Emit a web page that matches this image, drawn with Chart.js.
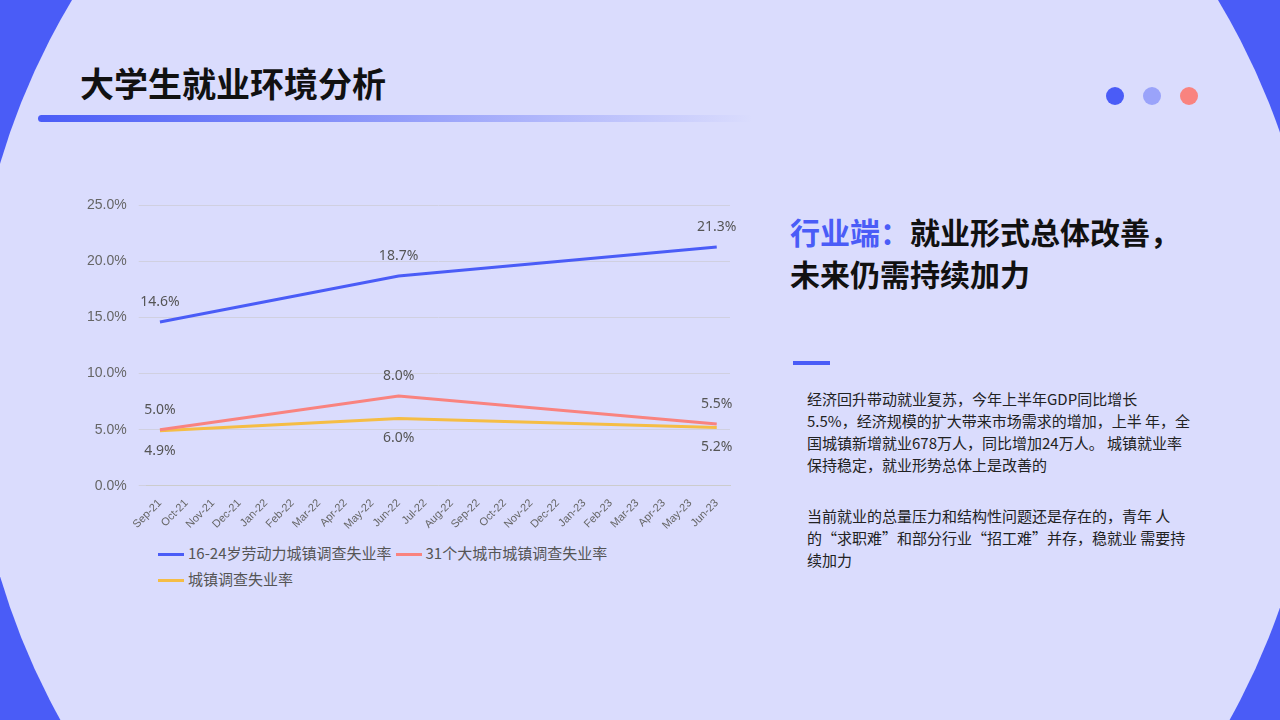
<!DOCTYPE html>
<html><head><meta charset="utf-8">
<script src="https://cdn.jsdelivr.net/npm/chart.js@4/dist/chart.umd.min.js"></script>
<style>
body{margin:0;width:1280px;height:720px;overflow:hidden;background:#4a5cf7;font-family:"Noto Sans CJK SC","Noto Sans",sans-serif;position:relative}
#bg{position:absolute;left:-30px;top:-330px;width:1350px;height:1400px;border-radius:50%;background:#dadcfd}
h1{position:absolute;left:80px;top:58px;margin:0;font-size:34px;font-weight:700;color:#111}
#bar{position:absolute;left:38px;top:115px;width:715px;height:7px;border-radius:4px;background:linear-gradient(90deg,#4a5cf7,#9aa3fa 55%,#dadcfd)}
.dot{position:absolute;top:87px;width:18px;height:18px;border-radius:50%}
#wrap{position:absolute;left:75px;top:185px;width:665px;height:350px}
#legend{position:absolute;left:158px;top:540px;width:500px;font-size:15px;color:#555;line-height:26px}
#legend span{display:inline-block;margin-right:4px;white-space:nowrap}
#legend i{display:inline-block;width:26px;height:3px;vertical-align:middle;margin-right:4px}
#h2{position:absolute;left:790px;top:210px;font-size:30px;font-weight:700;color:#111;line-height:42px}
#h2 span{color:#4a5cf7}
#ln{position:absolute;left:793px;top:361px;width:37px;height:4px;background:#4a5cf7}
.p{position:absolute;left:807px;width:388px;font-size:15px;line-height:22px;color:#222}
</style></head><body>
<div id="bg"></div>
<h1>大学生就业环境分析</h1>
<div id="bar"></div>
<div class="dot" style="left:1106px;background:#4a5cf7"></div>
<div class="dot" style="left:1143px;background:#9aa3fa"></div>
<div class="dot" style="left:1180px;background:#f9837f"></div>
<div id="wrap"><canvas id="c"></canvas></div>
<div id="legend"></div>
<div id="h2"><span>行业端：</span>就业形式总体改善，<br>未来仍需持续加力</div>
<div id="ln"></div>
<div class="p" style="top:388px">经济回升带动就业复苏，今年上半年GDP同比增长<br>5.5%，经济规模的扩大带来市场需求的增加，上半 年，全国城镇新增就业678万人，同比增加24万人。 城镇就业率保持稳定，就业形势总体上是改善的</div>
<div class="p" style="top:505px">当前就业的总量压力和结构性问题还是存在的，青年 人的“求职难”和部分行业“招工难”并存，稳就业 需要持续加力</div>
<script>
const months = ['Sep-21','Oct-21','Nov-21','Dec-21','Jan-22','Feb-22','Mar-22','Apr-22','May-22','Jun-22','Jul-22','Aug-22','Sep-22','Oct-22','Nov-22','Dec-22','Jan-23','Feb-23','Mar-23','Apr-23','May-23','Jun-23'];
const youth = [14.6,null,null,null,null,null,null,null,null,18.7,null,null,null,null,null,null,null,null,null,null,null,21.3];
const city31 = [5.0,null,null,null,null,null,null,null,null,8.0,null,null,null,null,null,null,null,null,null,null,null,5.5];
const urban = [4.9,null,null,null,null,null,null,null,null,6.0,null,null,null,null,null,null,null,null,null,null,null,5.2];

const labelPlugin = {
  id: 'labels',
  afterDatasetsDraw(chart) {
    const ctx = chart.ctx;
    ctx.save();
    ctx.font = '14px "Noto Sans", sans-serif';
    ctx.fillStyle = '#555';
    ctx.textAlign = 'center';
    ctx.textBaseline = 'middle';
    chart.data.datasets.forEach((ds, i) => {
      chart.getDatasetMeta(i).data.forEach((pt, j) => {
        const v = ds.data[j];
        if (v == null) return;
        const off = i == 2 ? 20 : -20;
        ctx.fillText(v.toFixed(1) + '%', pt.x, pt.y + off);
      });
    });
    ctx.restore();
  }
};

const chart = new Chart(document.getElementById('c'), {
  type: 'line',
  data: {
    labels: months,
    datasets: [
      {label: '16-24岁劳动力城镇调查失业率', data: youth, borderColor: '#4a5cf7', backgroundColor: '#4a5cf7', borderWidth: 3, spanGaps: true, pointRadius: 0},
      {label: '31个大城市城镇调查失业率', data: city31, borderColor: '#f9837f', backgroundColor: '#f9837f', borderWidth: 3, spanGaps: true, pointRadius: 0},
      {label: '城镇调查失业率', data: urban, borderColor: '#f5bd45', backgroundColor: '#f5bd45', borderWidth: 3, spanGaps: true, pointRadius: 0}
    ]
  },
  options: {
    responsive: true, maintainAspectRatio: false, animation: false,
    layout: {padding: {right: 10, top: 5}},
    plugins: {legend: {display: false}, tooltip: {enabled: false}},
    scales: {
      x: {offset: true, grid: {display: false}, border: {color: '#ccc'}, ticks: {maxRotation: 45, minRotation: 45, autoSkip: false, color: '#666', font: {size: 11}}},
      y: {min: 0, max: 25, ticks: {stepSize: 5, padding: 12, color: '#666', font: {size: 14}, callback: v => v.toFixed(1) + '%'}, grid: {color: '#d0d0e0'}, border: {display: false}}
    }
  },
  plugins: [labelPlugin]
});

document.getElementById('legend').innerHTML = chart.data.datasets
  .map(d => '<span><i style="background:' + d.borderColor + '"></i>' + d.label + '</span>').join('');
</script>
</body></html>
